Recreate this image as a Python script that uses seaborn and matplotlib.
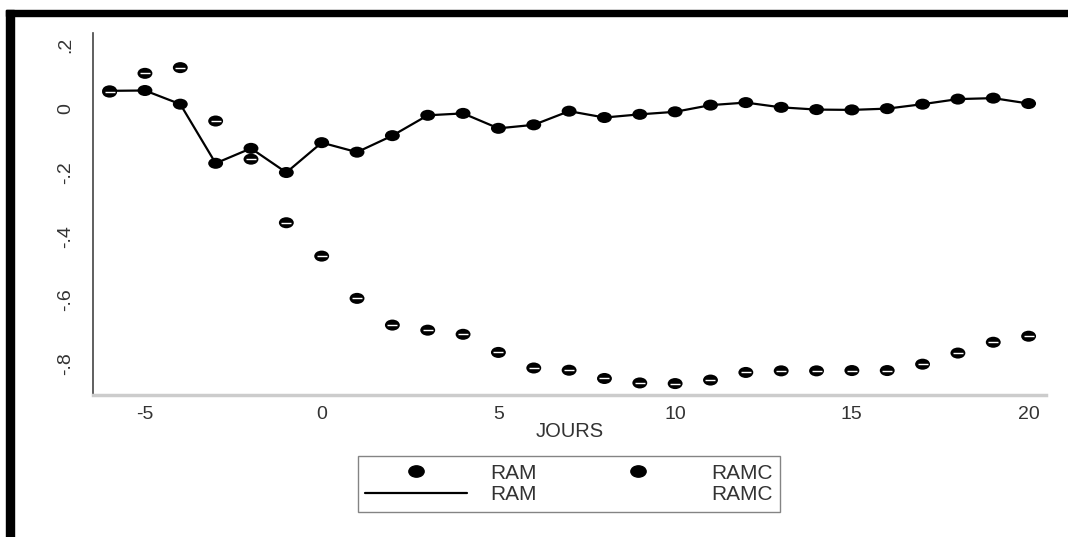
import numpy as np
import pandas as pd
import matplotlib
matplotlib.use('Agg')
import matplotlib.pyplot as plt
import seaborn as sns
from matplotlib.path import Path
from matplotlib.transforms import Affine2D
from matplotlib.lines import Line2D
from matplotlib.patches import Rectangle

# ------------------------------------------------------------
# donnees
# ------------------------------------------------------------
jours = list(range(-6, 21))
ram = [0.057, 0.058, 0.015, -0.171, -0.124, -0.200, -0.106, -0.136, -0.084,
       -0.020, -0.014, -0.061, -0.050, -0.007, -0.027, -0.017, -0.009, 0.012,
       0.020, 0.005, -0.002, -0.003, 0.001, 0.015, 0.031, 0.034, 0.017]
ramc = [0.053, 0.112, 0.130, -0.038, -0.158, -0.358, -0.463, -0.596, -0.680,
        -0.696, -0.709, -0.766, -0.815, -0.822, -0.848, -0.862, -0.864, -0.853,
        -0.829, -0.824, -0.824, -0.823, -0.823, -0.803, -0.768, -0.734, -0.715]

xticks = [-5, 0, 5, 10, 15, 20]
yticks = [0.2, 0, -0.2, -0.4, -0.6, -0.8]
ytick_labels = ['.2', '0', '-.2', '-.4', '-.6', '-.8']

sns.set_style('white')
plt.rcParams['font.family'] = ['Liberation Sans', 'DejaVu Sans']
plt.rcParams['axes.unicode_minus'] = False

df = pd.DataFrame({'JOURS': jours, 'RAM': ram, 'RAMC': ramc})

# marqueur ovale (plus large que haut)
ellipse = Path.unit_circle().transformed(Affine2D().scale(1.35, 1.0))

fig = plt.figure(figsize=(10.68, 5.37), dpi=100)
ax = fig.add_axes([0.0874, 0.2644, 0.8916, 0.6736])

sns.lineplot(data=df, x='JOURS', y='RAM', color='black', lw=1.6, ax=ax)
sns.scatterplot(data=df, x='JOURS', y='RAM', marker=ellipse, s=115,
                color='black', edgecolor='none', ax=ax, zorder=3)
sns.scatterplot(data=df, x='JOURS', y='RAMC', marker=ellipse, s=115,
                color='black', edgecolor='none', ax=ax, zorder=3)
sns.scatterplot(data=df, x='JOURS', y='RAMC', marker='_', s=55,
                color='white', linewidth=1.0, ax=ax, zorder=4)

ax.set_xlim(-6.46, 20.48)
ax.set_ylim(-0.90, 0.238)
ax.set_xticks(xticks)
ax.set_yticks(yticks)
ax.set_yticklabels(ytick_labels)

txt = '#333333'
ax.tick_params(axis='y', labelrotation=90, length=8, width=1.2, color='#aaaaaa',
               labelsize=14, labelcolor=txt, pad=6)
ax.tick_params(axis='x', length=6, width=1.2, color='#666666',
               labelsize=14, labelcolor=txt, pad=2)
for lab in ax.get_yticklabels():
    lab.set_va('center')

ax.set_xlabel('JOURS', fontsize=14.5, color=txt, labelpad=-1)
ax.set_ylabel('')

sns.despine(ax=ax)
ax.spines['left'].set_color('#444444')
ax.spines['left'].set_linewidth(1.2)
ax.spines['bottom'].set_color('#cccccc')
ax.spines['bottom'].set_linewidth(2.5)

# legende a deux colonnes
dot = dict(marker=ellipse, color='black', linestyle='none', markersize=11)
handles = [Line2D([], [], **dot), Line2D([], [], color='black', lw=1.6),
           Line2D([], [], **dot), Line2D([], [], color='none')]
labels = ['RAM', 'RAM', 'RAMC', 'RAMC']
leg = fig.legend(handles, labels, ncol=2, loc='center',
                 bbox_to_anchor=(0.5328, 0.0987), fontsize=15,
                 frameon=True, fancybox=False, edgecolor='#666666',
                 handlelength=4.9, handletextpad=1.1, columnspacing=2.4,
                 labelspacing=0.12, borderpad=0.35, borderaxespad=0)
leg.get_frame().set_linewidth(1.0)
for t in leg.get_texts():
    t.set_color(txt)

# cadre noir (haut et gauche)
fig.patches.append(Rectangle((6 / 1068, 1 - 16 / 537), 1.0, 6 / 537,
                             transform=fig.transFigure, color='black', zorder=10))
fig.patches.append(Rectangle((6 / 1068, 0), 8 / 1068, 1 - 10 / 537,
                             transform=fig.transFigure, color='black', zorder=10))

fig.savefig('out.png', dpi=100)
